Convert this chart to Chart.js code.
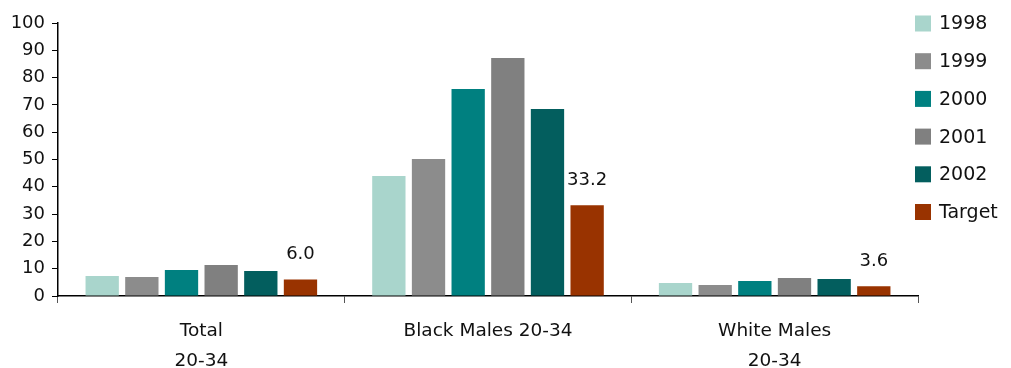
<!DOCTYPE html>
<html>
<head>
<meta charset="utf-8">
<script src="https://cdn.jsdelivr.net/npm/chart.js@4/dist/chart.umd.min.js"></script>
<style>
  html, body { margin: 0; padding: 0; background: #fff; }
  #wrap { width: 1011px; height: 368px; }
</style>
</head>
<body>
<div id="wrap"><canvas id="chart" width="1011" height="368"></canvas></div>
<script>
const categories = [["Total", "20-34"], "Black Males 20-34", ["White Males", "20-34"]];
const seriesNames = ["1998", "1999", "2000", "2001", "2002", "Target"];
const values1998 = [7.3, 44.0, 4.8];
const values1999 = [7.0, 50.2, 4.0];
const values2000 = [9.5, 75.8, 5.5];
const values2001 = [11.4, 87.2, 6.6];
const values2002 = [9.2, 68.5, 6.2];
const valuesTarget = [6.0, 33.2, 3.6];
const yTicks = [0, 10, 20, 30, 40, 50, 60, 70, 80, 90, 100];

const colors = ["#a9d5cc", "#8c8c8c", "#008080", "#808080", "#035e5e", "#993300"];
const allValues = [values1998, values1999, values2000, values2001, values2002, valuesTarget];
const textColor = "#111";
const fontFamily = "'DejaVu Sans', sans-serif";

// labels above the Target bars
const targetLabels = {
  id: "targetLabels",
  afterDatasetsDraw(chart) {
    const ctx = chart.ctx;
    const idx = chart.data.datasets.length - 1;
    const meta = chart.getDatasetMeta(idx);
    ctx.save();
    ctx.font = "18px " + fontFamily;
    ctx.fillStyle = textColor;
    ctx.textAlign = "center";
    ctx.textBaseline = "bottom";
    meta.data.forEach((bar, i) => {
      ctx.fillText(chart.data.datasets[idx].data[i].toFixed(1), bar.x, bar.y - 16);
    });
    ctx.restore();
  }
};

// legend drawn on the right
const sideLegend = {
  id: "sideLegend",
  afterDraw(chart) {
    const ctx = chart.ctx;
    ctx.save();
    ctx.font = "19px " + fontFamily;
    ctx.textBaseline = "middle";
    ctx.textAlign = "left";
    chart.data.datasets.forEach((ds, i) => {
      const cy = 23.5 + i * 37.7;
      ctx.fillStyle = ds.backgroundColor;
      ctx.fillRect(915, cy - 8, 16, 16);
      ctx.fillStyle = textColor;
      ctx.fillText(ds.label, 939, cy + 1);
    });
    ctx.restore();
  }
};

const ctx = document.getElementById("chart").getContext("2d");
new Chart(ctx, {
  type: "bar",
  data: {
    labels: categories,
    datasets: seriesNames.map((name, i) => ({
      label: name,
      data: allValues[i],
      backgroundColor: colors[i],
      categoryPercentage: 0.83,
      barPercentage: 0.84
    }))
  },
  options: {
    responsive: false,
    animation: false,
    layout: { padding: { top: 23, right: 93, left: 0, bottom: 0 } },
    plugins: {
      legend: { display: false },
      tooltip: { enabled: false }
    },
    scales: {
      x: {
        grid: {
          offset: true,
          drawOnChartArea: false,
          drawTicks: true,
          tickLength: 7,
          color: "#555"
        },
        border: { display: true, color: "#000", width: 1.5 },
        ticks: {
          color: textColor,
          font: { family: fontFamily, size: 18.5, lineHeight: 1.62 },
          padding: 13,
          maxRotation: 0
        },
        afterFit(scale) { scale.height = 72; }
      },
      y: {
        min: 0,
        max: 100,
        afterBuildTicks(scale) { scale.ticks = yTicks.map(v => ({ value: v })); },
        grid: {
          drawOnChartArea: false,
          drawTicks: true,
          tickLength: 6,
          color: "#000"
        },
        border: { display: true, color: "#000", width: 1.5 },
        ticks: {
          color: textColor,
          font: { family: fontFamily, size: 18 },
          padding: 7
        },
        afterFit(scale) { scale.width = 58; }
      }
    }
  },
  plugins: [targetLabels, sideLegend]
});
</script>
</body>
</html>
